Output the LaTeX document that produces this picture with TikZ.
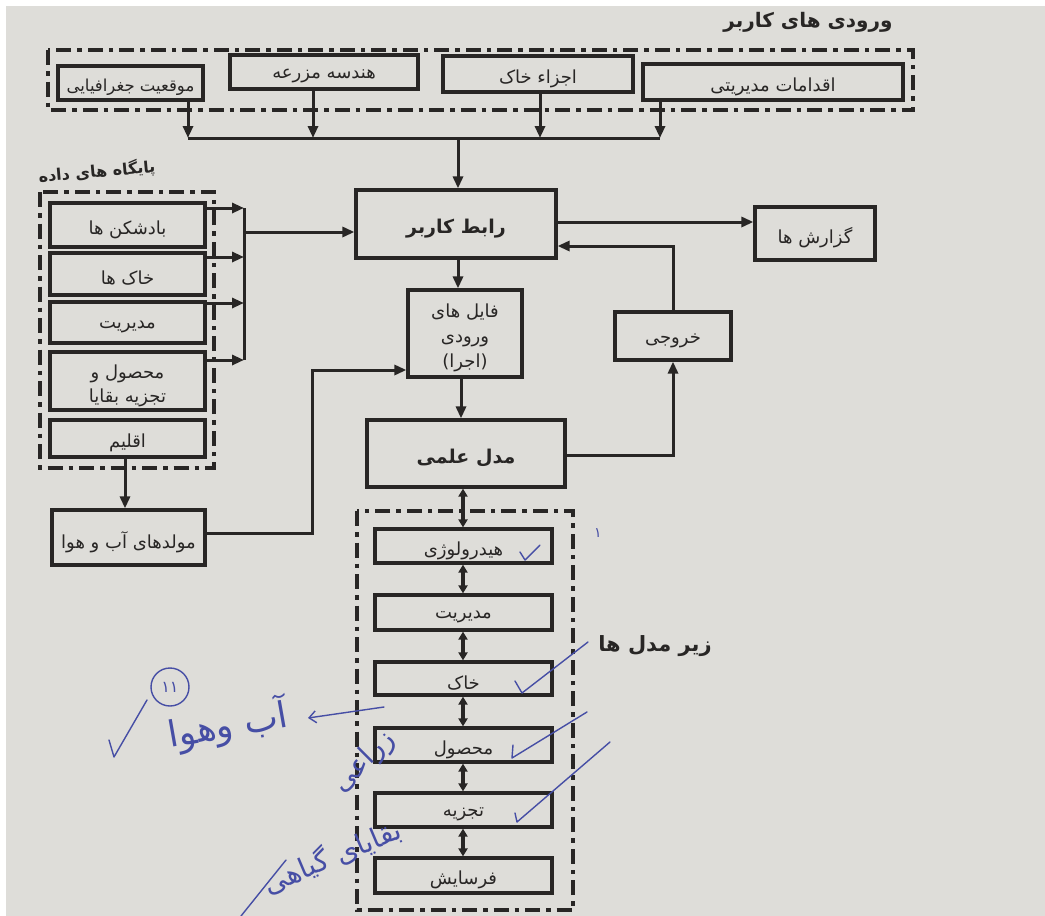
\documentclass[tikz,border=0pt]{standalone}
\usepackage{fontspec}
\newfontfamily\fa[Script=Arabic]{DejaVu Sans}
\TeXXeTstate=1
\usetikzlibrary{arrows.meta}
\definecolor{paper}{RGB}{222,221,217}
\definecolor{paperdark}{RGB}{172,170,168}
\definecolor{ink}{RGB}{40,38,37}
\definecolor{pen}{RGB}{70,78,165}
\pgfdeclareradialshading{vign}{\pgfpoint{0bp}{0bp}}{color(0bp)=(paper); color(38bp)=(paper); color(71bp)=(paperdark)}
\newcommand{\rl}[1]{\raisebox{-0.25em}[\height][\depth]{\beginR #1\endR}}
\newcommand{\rh}[1]{\beginR #1\endR}
\tikzset{
 box/.style={draw=ink, line width=3.2pt, inner sep=0pt, align=center, text=ink, font=\fa\fontsize{18}{25}\selectfont},
 bigbox/.style={box, font=\fa\bfseries\fontsize{19}{22}\selectfont},
 dashframe/.style={draw=ink, line width=4.2pt, dash pattern=on 15pt off 6pt on 4.5pt off 6pt},
 arr/.style={draw=ink, line width=3pt, -{Triangle[length=12pt,width=10pt]}},
 link/.style={draw=ink, line width=3pt},
 darr/.style={draw=ink, line width=3.4pt, {Triangle[length=8pt,width=9pt]}-{Triangle[length=8pt,width=9pt]}},
 hand/.style={draw=pen, line width=1.4pt, line cap=round, line join=round},
 handtext/.style={text=pen, font=\fa\fontsize{28}{32}\selectfont, inner sep=0pt},
 ttl/.style={text=ink, font=\fa\bfseries\fontsize{20}{24}\selectfont, inner sep=0pt}
}
\begin{document}
\begin{tikzpicture}[x=1pt,y=-1pt]
\shade[shading=vign] (0,0) rectangle (1045,916);
\fill[white] (0,0) rectangle (1045,6);
\fill[white] (0,0) rectangle (6,916);
\useasboundingbox (0,0) rectangle (1045,916);

% ---------- user inputs ----------
\node[ttl] (ttlin) at (808,22) {\rh{ورودی های کاربر}};
\draw[dashframe] (48,50) rectangle (913,110);
\node[box, minimum width=145, minimum height=34, font=\fa\fontsize{16.5}{20}\selectfont] (t1) at (130.5,83) {\rl{موقعیت جغرافیایی}};
\node[box, minimum width=188, minimum height=34] (t2) at (324,72) {\rl{هندسه مزرعه}};
\node[box, minimum width=190, minimum height=36] (t3) at (538,74) {\rl{اجزاء خاک}};
\node[box, minimum width=260, minimum height=36] (t4) at (773,82) {\rl{اقدامات مدیریتی}};
\coordinate (b1) at (188,138);
\coordinate (b2) at (313,138);
\coordinate (b3) at (540,138);
\coordinate (b4) at (660,138);
\coordinate (bc) at (458,138);
\draw[arr] (t1.south -| b1) -- (b1);
\draw[arr] (t2.south -| b2) -- (b2);
\draw[arr] (t3.south -| b3) -- (b3);
\draw[arr] (t4.south -| b4) -- (b4);
\draw[link] (b1) -- (b4);

% ---------- centre ----------
\node[bigbox, minimum width=200, minimum height=68] (ui) at (456,224) {\rl{رابط کاربر}};
\draw[arr] (bc) -- (ui.north -| bc);
\node[box, minimum width=120, minimum height=53] (rep) at (815,233.5) {\rl{گزارش ها}};
\coordinate (r1) at (650,222);
\draw[arr] (ui.east |- r1) -- (rep.west |- r1);
\node[box, minimum width=116, minimum height=48] (out) at (673,336) {\rl{خروجی}};
\coordinate (r2) at (673,246);
\draw[arr] (out.north) -- (r2) -- (ui.east |- r2);
\node[box, minimum width=114, minimum height=87] (files) at (465,333.5) {\rl{فایل های}\\\rl{ورودی}\\\rl{(اجرا)}};
\draw[arr] (ui.south -| bc) -- (files.north -| bc);
\node[bigbox, minimum width=198, minimum height=67] (model) at (466,453.5) {\rl{مدل علمی}};
\coordinate (cx2) at (461,400);
\draw[arr] (files.south -| cx2) -- (model.north -| cx2);
\coordinate (r3) at (673,455);
\draw[arr] (model.east |- r3) -- (r3) -- (out.south);

% ---------- databases ----------
\node[ttl, rotate=5, font=\fa\bfseries\fontsize{16}{19}\selectfont] (dbt) at (97,172) {\rh{پایگاه های داده}};
\draw[dashframe] (40,192) rectangle (214,468);
\node[box, minimum width=155, minimum height=44] (d1) at (127.5,225) {\rl{بادشکن ها}};
\node[box, minimum width=155, minimum height=42] (d2) at (127.5,274) {\rl{خاک ها}};
\node[box, minimum width=155, minimum height=41] (d3) at (127.5,322.5) {\rl{مدیریت}};
\node[box, minimum width=155, minimum height=58, font=\fa\fontsize{18}{24}\selectfont] (d4) at (127.5,381) {\rl{محصول و}\\\rl{تجزیه بقایا}};
\node[box, minimum width=155, minimum height=37] (d5) at (127.5,438.5) {\rl{اقلیم}};
\coordinate (v1) at (244,208);
\coordinate (v2) at (244,257);
\coordinate (v3) at (244,303);
\coordinate (v4) at (244,360);
\coordinate (vm) at (244,232);
\draw[arr] (d1.east |- v1) -- (v1);
\draw[arr] (d2.east |- v2) -- (v2);
\draw[arr] (d3.east |- v3) -- (v3);
\draw[arr] (d4.east |- v4) -- (v4);
\draw[link] (v1) -- (v4);
\draw[arr] (vm) -- (ui.west |- vm);

\node[box, minimum width=153, minimum height=55] (clim) at (128.5,537.5) {\rl{مولدهای آب و هوا}};
\coordinate (cl) at (125,490);
\draw[arr] (d5.south -| cl) -- (clim.north -| cl);
\coordinate (k1) at (312,533);
\coordinate (k2) at (312,370);
\draw[arr] (clim.east |- k1) -- (k1) -- (k2) -- (files.west |- k2);

% ---------- sub-models ----------
\draw[dashframe] (357,511) rectangle (573,910);
\node[box, minimum width=177, minimum height=34] (s1) at (463.5,546) {\rl{هیدرولوژی}};
\node[box, minimum width=177, minimum height=35] (s2) at (463.5,612.5) {\rl{مدیریت}};
\node[box, minimum width=177, minimum height=33] (s3) at (463.5,678.5) {\rl{خاک}};
\node[box, minimum width=177, minimum height=34] (s4) at (463.5,745) {\rl{محصول}};
\node[box, minimum width=177, minimum height=34] (s5) at (463.5,810) {\rl{تجزیه}};
\node[box, minimum width=177, minimum height=35] (s6) at (463.5,875.5) {\rl{فرسایش}};
\coordinate (sx) at (463,500);
\draw[darr] (model.south -| sx) -- (s1.north -| sx);
\draw[darr] (s1.south -| sx) -- (s2.north -| sx);
\draw[darr] (s2.south -| sx) -- (s3.north -| sx);
\draw[darr] (s3.south -| sx) -- (s4.north -| sx);
\draw[darr] (s4.south -| sx) -- (s5.north -| sx);
\draw[darr] (s5.south -| sx) -- (s6.north -| sx);
\node[ttl, font=\fa\bfseries\fontsize{21}{24}\selectfont] (subt) at (655,646) {\rh{زیر مدل ها}};

% ---------- handwriting ----------
\node[handtext, font=\fa\fontsize{14}{16}\selectfont] (one) at (598,533) {۱};
\node[draw=pen, line width=1.4pt, circle, minimum size=38pt, inner sep=0pt, text=pen, font=\fa\fontsize{16}{18}\selectfont] (c11) at (170,687) {۱۱};
\draw[hand] (109,740) -- (114,757) -- (147,700);
\node[handtext, rotate=10, font=\fa\fontsize{36}{40}\selectfont] (aw) at (228,725) {\rh{آب وهوا}};
\coordinate (ha1) at (384,707);
\coordinate (ha2) at (308,718);
\draw[hand, -{Straight Barb[length=7pt,width=12pt]}] (ha1) -- (ha2);
\node[handtext, rotate=45] (zr) at (364,762) {\rh{زراعی}};
\node[handtext, rotate=23] (bq) at (332,856) {\rh{بقایای گیاهی}};
\draw[hand] (241,916) -- (286,860);
\draw[hand] (520,552) -- (525,560) -- (540,545);
\draw[hand] (515,681) -- (522,693) -- (588,642);
\draw[hand] (513,745) -- (512,758) -- (587,712);
\draw[hand] (515,813) -- (517,822) -- (610,742);
\end{tikzpicture}
\end{document}
